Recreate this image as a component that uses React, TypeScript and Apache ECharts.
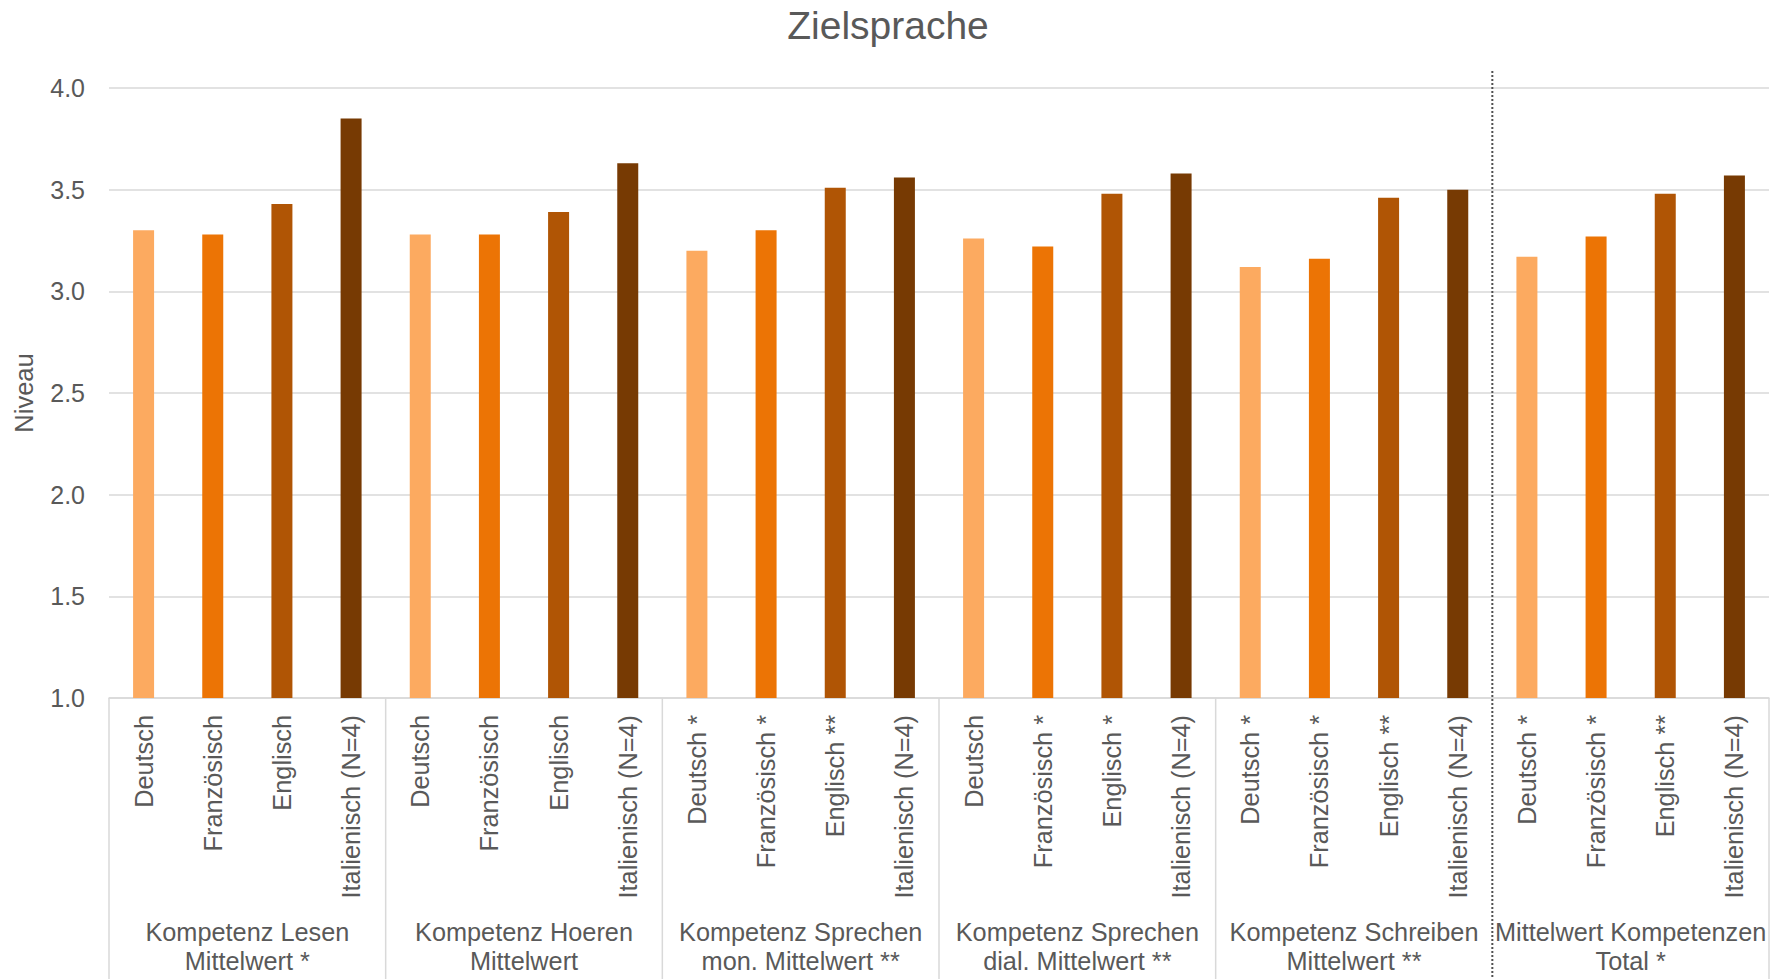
import React, { useEffect, useRef } from "react";
import * as echarts from "echarts";

const groupLabels = [
  "Kompetenz Lesen\nMittelwert *",
  "Kompetenz Hoeren\nMittelwert",
  "Kompetenz Sprechen\nmon. Mittelwert **",
  "Kompetenz Sprechen\ndial. Mittelwert **",
  "Kompetenz Schreiben\nMittelwert **",
  "Mittelwert Kompetenzen\nTotal *",
];

const categoryLabels = [
  ["Deutsch", "Französisch", "Englisch", "Italienisch (N=4)"],
  ["Deutsch", "Französisch", "Englisch", "Italienisch (N=4)"],
  ["Deutsch *", "Französisch *", "Englisch **", "Italienisch (N=4)"],
  ["Deutsch", "Französisch *", "Englisch *", "Italienisch (N=4)"],
  ["Deutsch *", "Französisch *", "Englisch **", "Italienisch (N=4)"],
  ["Deutsch *", "Französisch *", "Englisch **", "Italienisch (N=4)"],
];

const deutsch = [3.3, 3.28, 3.2, 3.26, 3.12, 3.17];
const franzoesisch = [3.28, 3.28, 3.3, 3.22, 3.16, 3.27];
const englisch = [3.43, 3.39, 3.51, 3.48, 3.46, 3.48];
const italienisch = [3.85, 3.63, 3.56, 3.58, 3.5, 3.57];

const colors = ["#FCAA60", "#EC7405", "#B05505", "#773A03"];

const FONT = "'Liberation Sans', Arial, sans-serif";
const TXT = "#595959";

export default function App() {
  const ref = useRef<HTMLDivElement>(null);

  useEffect(() => {
    if (!ref.current) return;
    const chart = echarts.init(ref.current, undefined, { renderer: "svg" });

    const cats: string[] = [];
    const data: any[] = [];
    const series = [deutsch, franzoesisch, englisch, italienisch];
    for (let g = 0; g < groupLabels.length; g++) {
      for (let l = 0; l < 4; l++) {
        cats.push(categoryLabels[g][l]);
        data.push({ value: series[l][g], itemStyle: { color: colors[l] } });
      }
    }

    chart.setOption({
      animation: false,
      textStyle: { fontFamily: FONT, color: TXT },
      title: {
        text: "Zielsprache",
        left: "center",
        top: 1,
        textStyle: { fontFamily: FONT, fontSize: 39, fontWeight: "normal", color: TXT },
      },
      grid: { left: 109, right: 7, top: 88, bottom: 281, containLabel: false },
      xAxis: [
        {
          type: "category",
          data: cats,
          axisLine: { show: true, lineStyle: { color: "#D9D9D9", width: 1.5 } },
          axisTick: { show: false },
          axisLabel: {
            interval: 0,
            rotate: 90,
            margin: 17,
            fontSize: 25.3,
            color: TXT,
            fontFamily: FONT,
          },
        },
        {
          type: "category",
          position: "bottom",
          data: groupLabels,
          axisLine: { show: false },
          axisTick: { show: false },
          axisLabel: {
            interval: 0,
            margin: 220,
            fontSize: 25.3,
            lineHeight: 28.5,
            color: TXT,
            fontFamily: FONT,
          },
        },
      ],
      yAxis: {
        type: "value",
        min: 1,
        max: 4,
        interval: 0.5,
        name: "Niveau",
        nameLocation: "middle",
        nameRotate: 90,
        nameGap: 72,
        nameTextStyle: { fontSize: 25.5, color: TXT, fontFamily: FONT },
        axisLine: { show: false },
        axisTick: { show: false },
        axisLabel: {
          margin: 24,
          fontSize: 25,
          color: TXT,
          fontFamily: FONT,
          formatter: (v: number) => v.toFixed(1),
        },
        splitLine: { lineStyle: { color: "#D9D9D9", width: 1.5 } },
      },
      series: [
        {
          type: "bar",
          xAxisIndex: 0,
          barWidth: 21,
          data,
        },
      ],
    });

    // group separators computed from the axis
    const xs = cats.map((_, i) => chart.convertToPixel({ xAxisIndex: 0 }, i) as number);
    const band = xs[1] - xs[0];
    const axisY = chart.convertToPixel({ yAxisIndex: 0 }, 1) as number;
    const topY = chart.convertToPixel({ yAxisIndex: 0 }, 4) as number;
    const graphics: any[] = [];
    for (let k = 0; k <= groupLabels.length; k++) {
      const x = k * 4 < xs.length ? xs[k * 4] - band / 2 : xs[xs.length - 1] + band / 2;
      if (k === 5) {
        graphics.push({
          type: "line",
          shape: { x1: x, y1: topY - 17, x2: x, y2: 979 },
          style: { stroke: "#505050", lineWidth: 2, lineDash: [2, 2] },
          z: 10,
        });
      } else {
        graphics.push({
          type: "line",
          shape: { x1: x, y1: axisY, x2: x, y2: 979 },
          style: { stroke: "#D9D9D9", lineWidth: 1.5 },
        });
      }
    }
    chart.setOption({ graphic: graphics });

    return () => chart.dispose();
  }, []);

  return (
    <div
      ref={ref}
      style={{ position: "absolute", left: 0, top: 0, width: 1776, height: 979, background: "#fff" }}
    />
  );
}
